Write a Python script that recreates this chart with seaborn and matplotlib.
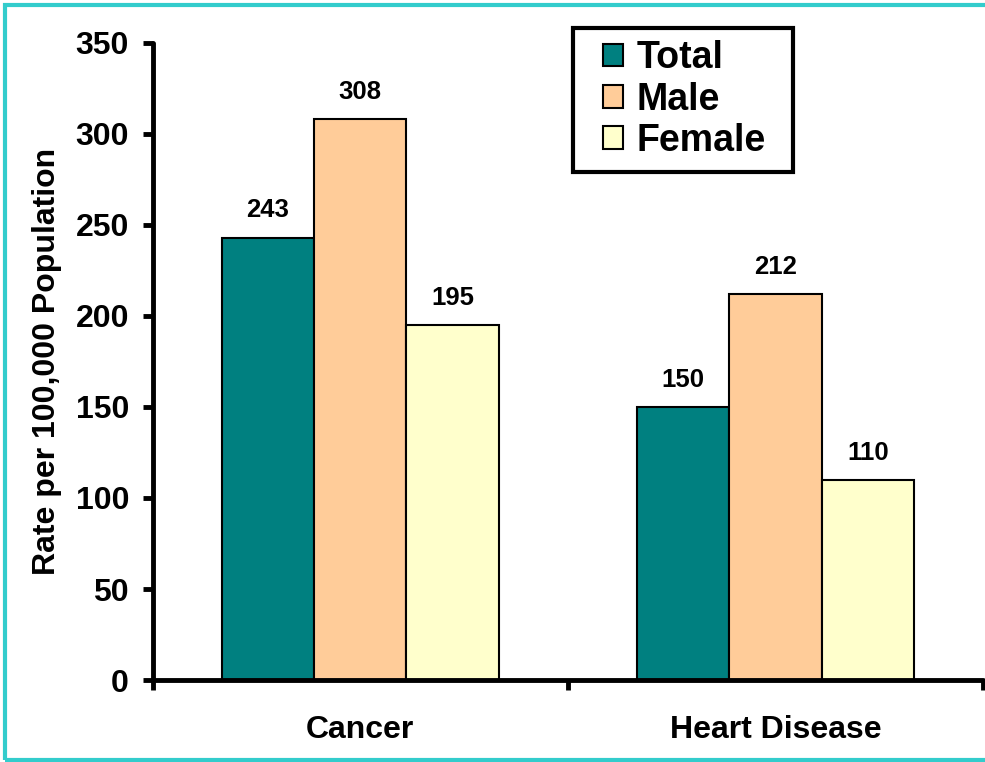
import matplotlib
matplotlib.use("Agg")
import matplotlib.pyplot as plt
import matplotlib.patches as mpatches
import seaborn as sns
import pandas as pd

categories = ["Cancer", "Heart Disease"]
groups = ["Total", "Male", "Female"]
total = [243, 150]
male = [308, 212]
female = [195, 110]
colors = ["#008080", "#FFCC99", "#FFFFCC"]

rows = []
for i, cat in enumerate(categories):
    for g, vals in zip(groups, [total, male, female]):
        rows.append({"cause": cat, "group": g, "rate": vals[i]})
df = pd.DataFrame(rows)

sns.set_style("white")
plt.rcParams["font.family"] = ["Liberation Sans", "DejaVu Sans"]
plt.rcParams["font.weight"] = "bold"
plt.rcParams["text.color"] = "black"
plt.rcParams["axes.labelcolor"] = "black"
plt.rcParams["xtick.color"] = "black"
plt.rcParams["ytick.color"] = "black"

fig = plt.figure(figsize=(9.85, 7.62), dpi=100)
ax = fig.add_axes([0.155, 0.1076, 0.843, 0.836])

sns.barplot(data=df, x="cause", y="rate", hue="group", hue_order=groups,
            palette=colors, width=0.667, gap=0, edgecolor="black",
            linewidth=1.5, saturation=1, ax=ax, legend=False)

for cont in ax.containers:
    ax.bar_label(cont, padding=11, fontsize=18.5, fontweight="bold", color="black")

ax.set_xlim(-0.5, 1.5)
ax.set_ylim(0, 350)
ax.set_yticks(range(0, 351, 50))
ax.set_xlabel("")
ax.set_ylabel("Rate per 100,000 Population", fontsize=23, fontweight="bold", labelpad=10)

for side in ["top", "right"]:
    ax.spines[side].set_visible(False)
for side in ["left", "bottom"]:
    ax.spines[side].set_linewidth(3.5)
    ax.spines[side].set_color("black")
    ax.spines[side].set_capstyle("round")

ax.tick_params(axis="y", which="major", direction="out", length=7, width=3.5,
               left=True, labelsize=23, pad=10)
ax.tick_params(axis="x", which="major", length=0, labelsize=23, pad=25)
ax.set_xticks([-0.5, 0.5, 1.5], minor=True)
ax.tick_params(axis="x", which="minor", direction="out", length=7, width=3.5, bottom=True)
for lab in ax.get_xticklabels() + ax.get_yticklabels():
    lab.set_fontweight("bold")

# legend without its own frame; frame drawn as a box around it
handles = [mpatches.Patch(facecolor=c, edgecolor="black", linewidth=1.5, label=g)
           for c, g in zip(colors, groups)]
leg = fig.legend(handles=handles, loc="upper left", bbox_to_anchor=(0.612, 0.947),
                 fontsize=27, frameon=False,
                 handlelength=0.55, handleheight=0.55, handletextpad=0.35,
                 labelspacing=0.14, borderpad=0, borderaxespad=0)
for t in leg.get_texts():
    t.set_fontweight("bold")
fig.patches.append(mpatches.Rectangle((0.5817, 0.7743), 0.2234, 0.189, transform=fig.transFigure,
                                      fill=True, facecolor="white", edgecolor="black",
                                      linewidth=3, zorder=0))
leg.set_zorder(5)

fig.patches.append(mpatches.Rectangle((0.005, 0.003), 1.1, 0.99, transform=fig.transFigure,
                                      fill=False, edgecolor="#33CCCC", linewidth=3))

fig.savefig("out.png", dpi=100)
